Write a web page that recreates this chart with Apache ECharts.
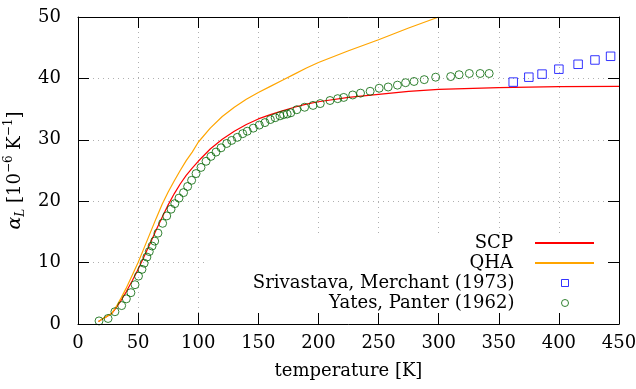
<!DOCTYPE html>
<html>
<head>
<meta charset="utf-8">
<script src="https://cdn.jsdelivr.net/npm/echarts@6/dist/echarts.min.js"></script>
<style>
html, body { margin: 0; padding: 0; background: #fff; }
#main { width: 636px; height: 389px; }
</style>
</head>
<body>
<div id="main"></div>
<script>
// SCP and QHA curves
var scpT = [17, 22, 28, 32, 36, 40, 45, 50, 55, 60, 65, 70, 75, 80, 85, 90, 95, 100, 110, 120, 130, 140, 150, 160, 170, 180, 190, 200, 225, 250, 275, 300, 350, 400, 450];
var scpA = [0.4, 1.0, 1.7, 2.7, 3.9, 5.2, 7.0, 8.9, 11.0, 13.1, 15.3, 17.4, 19.4, 21.2, 22.8, 24.2, 25.4, 26.5, 28.5, 30.1, 31.4, 32.5, 33.4, 34.1, 34.7, 35.3, 35.8, 36.2, 36.9, 37.4, 37.9, 38.2, 38.5, 38.65, 38.7];
var qhaT = [17, 22, 28, 32, 36, 40, 45, 50, 55, 60, 65, 70, 75, 80, 85, 90, 95, 100, 110, 120, 130, 140, 150, 160, 170, 180, 190, 200, 225, 250, 275, 300];
var qhaA = [0.4, 1.0, 1.7, 2.9, 4.3, 5.8, 7.9, 10.0, 12.4, 14.8, 17.2, 19.5, 21.5, 23.3, 25.0, 26.6, 28.0, 29.6, 31.9, 33.8, 35.3, 36.6, 37.7, 38.7, 39.7, 40.7, 41.7, 42.6, 44.5, 46.3, 48.2, 50.0];
// experiments
var srivT = [362, 375, 386, 400, 416, 430, 443];
var srivA = [39.4, 40.2, 40.7, 41.5, 42.3, 43.0, 43.6];
var yatesT = [17.5, 25, 30.7, 36.3, 40.2, 44, 47.4, 50.3, 53.2, 55, 57.3, 59.3, 61.6, 63.8, 66.5, 70.4, 73.8, 77.4, 80.5, 84, 87.8, 91.2, 94.5, 98.2, 102.3, 106.5, 110.6, 114.8, 119, 123.7, 127.8, 132.5, 137, 140.8, 145.8, 150.8, 155.5, 160, 164, 168, 171, 174, 177, 182, 188.5, 195.5, 201.5, 209.6, 216, 221, 228.5, 235, 243, 250.5, 258, 265.7, 272.5, 279.5, 288, 297.5, 310, 317, 325.5, 334.5, 342];
var yatesA = [0.5, 0.9, 2.0, 3.0, 4.1, 5.1, 6.4, 7.8, 8.9, 9.9, 10.9, 11.8, 12.7, 13.5, 14.8, 16.4, 17.6, 18.7, 19.6, 20.5, 21.4, 22.4, 23.4, 24.5, 25.5, 26.5, 27.3, 28.0, 28.7, 29.4, 29.9, 30.4, 31.0, 31.4, 31.9, 32.4, 32.8, 33.3, 33.6, 33.9, 34.1, 34.2, 34.4, 34.9, 35.3, 35.6, 35.9, 36.4, 36.7, 36.9, 37.3, 37.6, 37.9, 38.4, 38.6, 38.9, 39.3, 39.5, 39.8, 40.2, 40.3, 40.6, 40.8, 40.8, 40.8];
var xTicks = [0, 450, 50];
var yTicks = [0, 50, 10];

function pairs(xs, ys) {
	var out = [];
	for (var i = 0; i < xs.length; i++) out.push([xs[i], ys[i]]);
	return out;
}

var FONT = 'DejaVu Serif';
var dom = document.getElementById('main');
var myChart = echarts.init(dom);

function tickAxis(pos, ticks, showLabel, extra) {
	var a = {
		type: 'value', position: pos, min: ticks[0], max: ticks[1], interval: ticks[2], z: 5,
		axisLine: { show: true, onZero: false, lineStyle: { color: '#000', width: 1 } },
		axisTick: { show: true, inside: true, length: 11, lineStyle: { color: '#000' } },
		axisLabel: { show: showLabel, color: '#000', fontSize: 18, fontFamily: FONT },
		splitLine: { show: false }
	};
	for (var k in extra) a[k] = extra[k];
	return a;
}
function gridAxis(pos, ticks) {
	return {
		type: 'value', position: pos, min: ticks[0], max: ticks[1], interval: ticks[2], z: 0,
		axisLine: { show: false }, axisTick: { show: false }, axisLabel: { show: false },
		splitLine: { show: true, lineStyle: { color: '#b0b0b0', width: 1, type: [1, 4] } }
	};
}
function legendRow(name, top, right, w, h, gap, style) {
	var l = {
		data: [name], top: top, right: right, orient: 'vertical', align: 'right',
		itemWidth: w, itemHeight: h, padding: 0, selectedMode: false,
		textStyle: { fontSize: 18, fontFamily: FONT, color: '#000', lineHeight: 20, padding: [0, gap, 0, 0] }
	};
	if (style) l.itemStyle = style;
	return l;
}

var option = {
	animation: false,
	textStyle: { fontFamily: FONT },
	grid: { left: 78, right: 17, top: 17, bottom: 65, outerBoundsMode: 'none', containLabel: false },
	graphic: [{
		type: 'rect', z: 1, silent: true,
		shape: { x: 208, y: 233, width: 410, height: 90 },
		style: { fill: '#fff' }
	}],
	xAxis: [
		tickAxis('bottom', xTicks, true, {
			name: 'temperature [K]', nameLocation: 'middle', nameGap: 38,
			nameTextStyle: { color: '#000', fontSize: 18, fontFamily: FONT },
			axisLabel: { show: true, color: '#000', fontSize: 18, fontFamily: FONT, margin: 10 }
		}),
		tickAxis('top', xTicks, false, {}),
		gridAxis('bottom', xTicks)
	],
	yAxis: [
		tickAxis('left', yTicks, true, {
			name: '{i|α}{sub|L}{n| [10}{sup|−6}{n| K}{sup|−1}{n|]}',
			nameLocation: 'middle', nameGap: 40, nameRotate: 90,
			nameTextStyle: {
				color: '#000', fontFamily: FONT,
				rich: {
					i: { fontSize: 19, fontStyle: 'italic', fontFamily: FONT, lineHeight: 24 },
					n: { fontSize: 18, fontFamily: FONT, lineHeight: 24 },
					sub: { fontSize: 12, fontStyle: 'italic', fontFamily: FONT, lineHeight: 14, verticalAlign: 'bottom' },
					sup: { fontSize: 12, fontFamily: FONT, lineHeight: 14, verticalAlign: 'top' }
				}
			},
			axisLabel: { show: true, color: '#000', fontSize: 18, fontFamily: FONT, margin: 17 }
		}),
		tickAxis('right', yTicks, false, {}),
		gridAxis('left', yTicks)
	],
	legend: [
		legendRow('SCP', 233, 41, 59, 2, 17),
		legendRow('QHA', 253, 41, 59, 2, 17),
		legendRow('Srivastava, Merchant (1973)', 273, 67, 7, 7, 42, { color: 'rgba(0,0,0,0)', borderColor: '#0000ff', borderWidth: 1 }),
		legendRow('Yates, Panter (1962)', 293, 67, 7, 7, 42, { color: 'rgba(0,0,0,0)', borderColor: '#006400', borderWidth: 1 })
	],
	series: [
		{
			name: 'SCP', type: 'line', data: pairs(scpT, scpA), showSymbol: false, symbol: 'none',
			smooth: false, z: 2,
			lineStyle: { color: '#ff0000', width: 1.2 }, itemStyle: { color: '#ff0000' }
		},
		{
			name: 'QHA', type: 'line', data: pairs(qhaT, qhaA), showSymbol: false, symbol: 'none',
			smooth: false, z: 2,
			lineStyle: { color: '#ffa500', width: 1.2 }, itemStyle: { color: '#ffa500' }
		},
		{
			name: 'Srivastava, Merchant (1973)', type: 'scatter', data: pairs(srivT, srivA),
			symbol: 'rect', symbolSize: 8.5, z: 3,
			itemStyle: { color: 'rgba(0,0,0,0)', borderColor: '#0000ff', borderWidth: 1 }
		},
		{
			name: 'Yates, Panter (1962)', type: 'scatter', data: pairs(yatesT, yatesA),
			symbol: 'circle', symbolSize: 8, z: 3,
			itemStyle: { color: 'rgba(0,0,0,0)', borderColor: '#006400', borderWidth: 1 }
		}
	]
};
myChart.setOption(option);
</script>
</body>
</html>
